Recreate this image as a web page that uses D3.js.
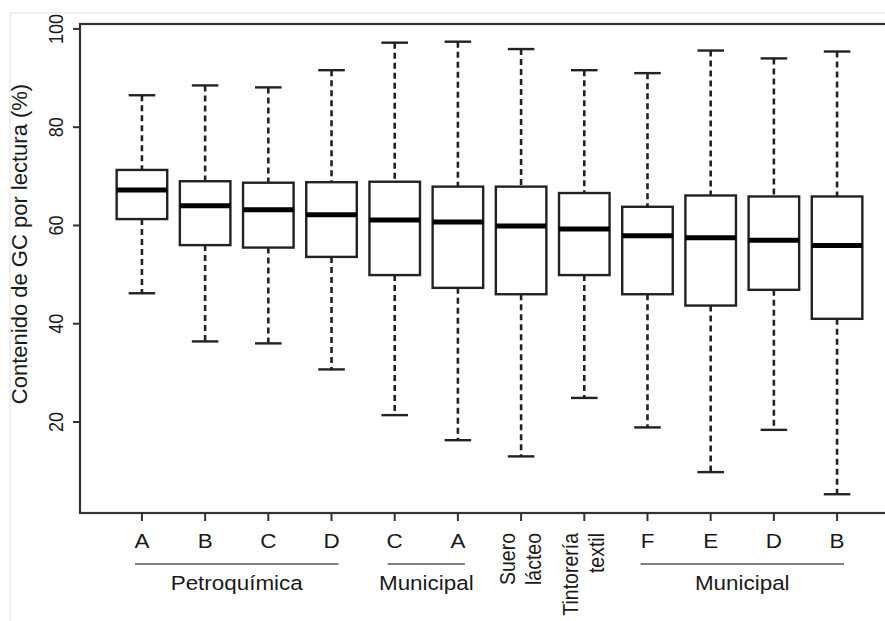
<!DOCTYPE html>
<html>
<head>
<meta charset="utf-8">
<script src="https://cdn.jsdelivr.net/npm/d3@7"></script>
<style>
  html, body { margin: 0; padding: 0; background: #fff; }
  svg { display: block; }
  text { font-family: "Liberation Sans", Arial, sans-serif; fill: #1a1a1a; }
</style>
</head>
<body>
<svg id="chart" width="885" height="621"></svg>
<script>
// Tick labels along the x axis (multi-line labels split on "\n")
const tickLabels = ["A", "B", "C", "D", "C", "A", "Suero\nlácteo", "Tintorería\ntextil", "F", "E", "D", "B"];

// Box statistics of GC content per read (%), one entry per box
const whiskerLow  = [46.2, 36.4, 36.0, 30.7, 21.4, 16.3, 13.0, 24.9, 18.9,  9.8, 18.4,  5.3];
const quartile1   = [61.3, 56.0, 55.5, 53.6, 49.9, 47.3, 46.0, 49.9, 46.0, 43.7, 46.9, 41.0];
const medians     = [67.2, 64.0, 63.2, 62.2, 61.1, 60.7, 59.9, 59.3, 57.9, 57.5, 57.0, 55.9];
const quartile3   = [71.3, 69.0, 68.7, 68.8, 68.9, 67.9, 67.9, 66.6, 63.8, 66.1, 65.9, 65.9];
const whiskerHigh = [86.5, 88.5, 88.1, 91.6, 97.2, 97.4, 95.9, 91.6, 91.0, 95.6, 94.0, 95.4];

// Y axis ticks
const yTicks = [20, 40, 60, 80, 100];

// Source groups spanning several boxes (1-based positions)
const groupLabels = ["Petroquímica", "Municipal", "Municipal"];
const groupFrom   = [1, 5, 9];
const groupTo     = [4, 6, 12];

const yTitle = "Contenido de GC por lectura (%)";

const svg = d3.select("#chart");
const ink = "#222";
const frame = "#333";
const sx = 1.15;              // horizontal glyph stretch
const fs = 19.5;              // label font size

const frameLeft = 80, frameRight = 899, frameTop = 24, frameBottom = 513;

const x = d3.scaleLinear().domain([0.02, 12.98]).range([frameLeft, frameRight]);
const y = d3.scaleLinear().domain([1.48, 101.0]).range([frameBottom, frameTop]);
const step = x(2) - x(1);

// faint outer edge of the figure
svg.append("path")
  .attr("d", `M10,${621} L10,13 L885,13`)
  .attr("fill", "none").attr("stroke", "#ececec").attr("stroke-width", 1.5);

const data = tickLabels.map((lab, i) => ({
  pos: i + 1, lab,
  lo: whiskerLow[i], q1: quartile1[i], med: medians[i], q3: quartile3[i], hi: whiskerHigh[i]
}));

const boxes = svg.append("g");
const g = boxes.selectAll("g").data(data).join("g");

// dashed whiskers
g.append("line")
  .attr("x1", d => x(d.pos)).attr("x2", d => x(d.pos))
  .attr("y1", d => y(d.hi)).attr("y2", d => y(d.q3))
  .attr("stroke", ink).attr("stroke-width", 2.6).attr("stroke-dasharray", "6,4");
g.append("line")
  .attr("x1", d => x(d.pos)).attr("x2", d => x(d.pos))
  .attr("y1", d => y(d.q1)).attr("y2", d => y(d.lo))
  .attr("stroke", ink).attr("stroke-width", 2.6).attr("stroke-dasharray", "6,4");

// whisker caps
["hi", "lo"].forEach(k => {
  g.append("line")
    .attr("x1", d => x(d.pos - 0.21)).attr("x2", d => x(d.pos + 0.21))
    .attr("y1", d => y(d[k])).attr("y2", d => y(d[k]))
    .attr("stroke", ink).attr("stroke-width", 2.4);
});

// boxes
g.append("rect")
  .attr("x", d => x(d.pos - 0.4)).attr("width", 0.8 * step)
  .attr("y", d => y(d.q3)).attr("height", d => y(d.q1) - y(d.q3))
  .attr("fill", "#fff").attr("stroke", ink).attr("stroke-width", 2.4);

// medians
g.append("line")
  .attr("x1", d => x(d.pos - 0.4)).attr("x2", d => x(d.pos + 0.4))
  .attr("y1", d => y(d.med)).attr("y2", d => y(d.med))
  .attr("stroke", "#000").attr("stroke-width", 5);

// plot frame
svg.append("rect")
  .attr("x", frameLeft).attr("y", frameTop)
  .attr("width", frameRight - frameLeft).attr("height", frameBottom - frameTop)
  .attr("fill", "none").attr("stroke", frame).attr("stroke-width", 2.2);

// y axis ticks and labels
const yAxis = svg.append("g");
yAxis.selectAll("line").data(yTicks).join("line")
  .attr("x1", frameLeft - 7).attr("x2", frameLeft)
  .attr("y1", d => y(d)).attr("y2", d => y(d))
  .attr("stroke", frame).attr("stroke-width", 2);
yAxis.selectAll("text").data(yTicks).join("text")
  .attr("transform", d => `translate(62.5,${y(d)}) scale(${sx},1) rotate(-90)`)
  .attr("text-anchor", "middle")
  .attr("font-size", 18)
  .text(d => d);

// y axis title
svg.append("text")
  .attr("transform", `translate(27,244) rotate(-90)`)
  .attr("text-anchor", "middle")
  .attr("font-size", 22)
  .text(yTitle);

// x axis ticks and labels
const xAxis = svg.append("g");
xAxis.selectAll("line").data(data).join("line")
  .attr("x1", d => x(d.pos)).attr("x2", d => x(d.pos))
  .attr("y1", frameBottom).attr("y2", frameBottom + 8)
  .attr("stroke", frame).attr("stroke-width", 2);

data.forEach(d => {
  const lines = d.lab.split("\n");
  if (lines.length === 1) {
    xAxis.append("text")
      .attr("transform", `translate(${x(d.pos)},548) scale(${sx},1)`)
      .attr("text-anchor", "middle")
      .attr("font-size", fs)
      .text(lines[0]);
  } else {
    lines.forEach((t, j) => {
      xAxis.append("text")
        .attr("transform", `translate(${x(d.pos) - 6 + j * 26},533) scale(${sx},1) rotate(-90)`)
        .attr("text-anchor", "end")
        .attr("font-size", fs)
        .text(t);
    });
  }
});

// group brackets
const groups = svg.append("g");
groupLabels.forEach((lab, i) => {
  const a = x(groupFrom[i]) - 0.11 * step, b = x(groupTo[i]) + 0.11 * step;
  groups.append("line")
    .attr("x1", a).attr("x2", b).attr("y1", 564).attr("y2", 564)
    .attr("stroke", "#555").attr("stroke-width", 1.6);
  groups.append("text")
    .attr("transform", `translate(${(x(groupFrom[i]) + x(groupTo[i])) / 2},590) scale(${sx},1)`)
    .attr("text-anchor", "middle")
    .attr("font-size", fs)
    .text(lab);
});
</script>
</body>
</html>
